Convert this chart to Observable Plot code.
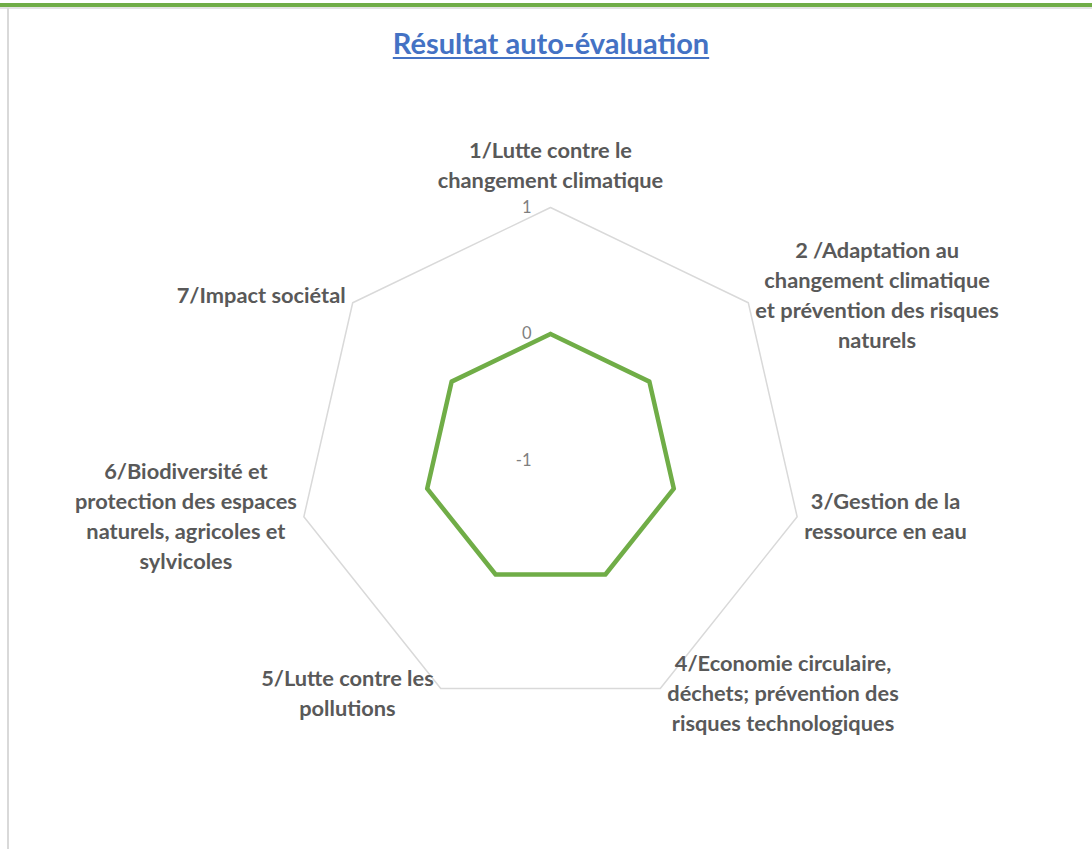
<!DOCTYPE html>
<html><head><meta charset="utf-8">
<script src="https://cdn.jsdelivr.net/npm/d3@7"></script>
<script src="https://cdn.jsdelivr.net/npm/@observablehq/plot@0.6"></script>
<style>
body{margin:0;background:#fff;}
#wrap{position:relative;width:1092px;height:849px;overflow:hidden;font-family:Lato,sans-serif;}
.topbar{position:absolute;left:0;top:3px;width:1092px;height:4px;background:#70ad47;}
.topshadow{position:absolute;left:0;top:7px;width:1092px;height:2px;background:#e3e3e3;}
.leftbar{position:absolute;left:7px;top:8px;width:2px;height:841px;background:#d9d9d9;}
#title{position:absolute;top:25px;left:0;width:1102px;text-align:center;font-family:Lato,sans-serif;font-weight:bold;font-size:29px;line-height:36px;color:#4472c4;text-decoration:underline;text-decoration-thickness:2px;text-underline-offset:3px;}
#chart{position:absolute;top:90px;left:0;}
</style></head>
<body>
<div id="wrap">
  <div class="topbar"></div><div class="topshadow"></div><div class="leftbar"></div>
  <div id="title">Résultat auto-évaluation</div>
  <div id="chart"></div>
</div>
<script>
const categories = [
  "1/Lutte contre le\nchangement climatique",
  "2 /Adaptation au\nchangement climatique\net prévention des risques\nnaturels",
  "3/Gestion de la\nressource en eau",
  "4/Economie circulaire,\ndéchets; prévention des\nrisques technologiques",
  "5/Lutte contre les\npollutions",
  "6/Biodiversité et\nprotection des espaces\nnaturels, agricoles et\nsylvicoles",
  "7/Impact sociétal"
];
const values = [0, 0, 0, 0, 0, 0, 0];
const gridValues = [-1, 0, 1];
const tickLabels = ["-1", "0", "1"];

const W = 1092, H = 759, CX = 550, CY = 370, R = 253;
const N = categories.length;
const vMin = -1, vMax = 1;
const rOf = v => (v - vMin) / (vMax - vMin);
const ang = i => i * 2 * Math.PI / N;

// grid rings (the ring at the minimum is a single point and is not drawn)
const gridPts = [];
gridValues.filter(g => g > vMin).forEach(g => {
  for (let i = 0; i <= N; i++) {
    const a = ang(i % N), r = rOf(g);
    gridPts.push({ring: g, x: r * Math.sin(a), y: r * Math.cos(a)});
  }
});
// series
const seriesPts = [];
for (let i = 0; i <= N; i++) {
  const a = ang(i % N), r = rOf(values[i % N]);
  seriesPts.push({x: r * Math.sin(a), y: r * Math.cos(a)});
}
// tick labels on axis 1
const ticks = gridValues.map((g, k) => ({x: 0, y: rOf(g), label: tickLabels[k]}));

// category labels
const FS = 21.8, LH = 30;
const ctx = document.createElement("canvas").getContext("2d");
ctx.font = `bold ${FS}px Lato`;
const labels = categories.map((c, i) => {
  const a = ang(i);
  const lines = c.split("\n");
  const w = Math.max(...lines.map(l => ctx.measureText(l).width));
  const h = lines.length * LH;
  const px = R * Math.sin(a), py = -R * Math.cos(a);
  let cx, cy;
  const pad = 7;
  if (Math.abs(Math.sin(a)) < 0.1) {
    cx = px; cy = py - 14 - h / 2;
  } else if (Math.sin(a) > 0) {
    cx = px + pad + w / 2; cy = py - 8 * Math.cos(a) - 4;
  } else {
    cx = px - pad - w / 2; cy = py - 8 * Math.cos(a) - 4;
  }
  return {x: cx / R, y: -cy / R, text: c};
});

const plot = Plot.plot({
  width: W, height: H,
  marginTop: 0, marginBottom: 0, marginLeft: 0, marginRight: 0,
  x: {domain: [-CX / R, (W - CX) / R], axis: null},
  y: {domain: [-(H - CY) / R, CY / R], axis: null},
  style: {fontFamily: "Lato, sans-serif", background: "transparent"},
  marks: [
    Plot.line(gridPts, {x: "x", y: "y", z: "ring", stroke: "#d9d9d9", strokeWidth: 1.5}),
    Plot.line(seriesPts, {x: "x", y: "y", stroke: "#70ad47", strokeWidth: 4.5, strokeLinejoin: "round", curve: "linear"}),
    Plot.text(ticks, {x: "x", y: "y", text: "label", textAnchor: "end", dx: -19, fill: "#7f7f7f", fontSize: 16.5}),
    Plot.text(labels, {x: "x", y: "y", text: "text", textAnchor: "middle", lineAnchor: "middle", lineHeight: LH / FS, fontSize: FS, fontWeight: "bold", fill: "#595959"})
  ]
});
document.getElementById("chart").appendChild(plot);
</script>
</body></html>
